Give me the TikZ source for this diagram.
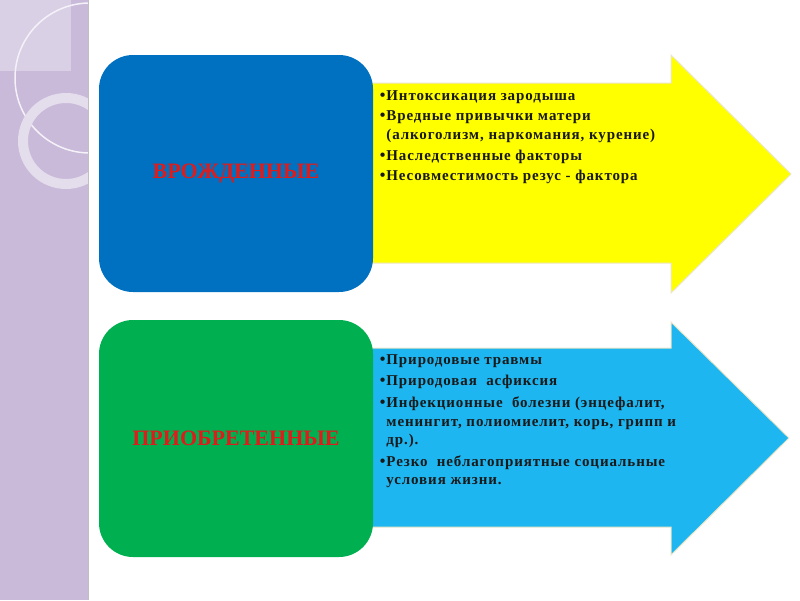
\documentclass[tikz,border=0pt]{standalone}
\usepackage{fontspec}
\setmainfont{Liberation Serif}
\newfontfamily\listfont[LetterSpace=6]{Liberation Serif}
\usetikzlibrary{positioning}

\definecolor{stripPurple}{RGB}{201,186,218}
\definecolor{stripLight}{RGB}{217,208,230}
\definecolor{boxBlue}{RGB}{0,112,192}
\definecolor{boxGreen}{RGB}{0,176,80}
\definecolor{arrowYellow}{RGB}{255,255,0}
\definecolor{arrowCyan}{RGB}{30,182,240}
\definecolor{titleRed}{RGB}{222,28,28}
\definecolor{arrowEdge}{RGB}{236,230,200}

\newcommand{\bul}{\makebox[9pt][r]{{\fontsize{16}{16}\selectfont\textbullet}\hspace{1pt}}}
\newcommand{\cont}{\hspace*{9pt}}

\begin{document}
\begin{tikzpicture}[
    x=1pt, y=-1pt,
    group/.style={rectangle, rounded corners=34pt, minimum width=274pt, minimum height=237pt, inner sep=0pt, font=\fontsize{22}{24}\selectfont\bfseries, text=titleRed},
    arrowshape/.style={draw=arrowEdge, line width=1pt},
    itemlist/.style={anchor=north west, align=left, inner sep=0pt, font=\listfont\fontsize{15}{18.6}\selectfont\bfseries, text=black!90}
]
\useasboundingbox (0,0) rectangle (800,600);

% --- Side strip ---
\fill[stripPurple] (0,0) rectangle (88,600);
\begin{scope}
    \clip (0,0) rectangle (88,600);
    \fill[stripLight] (0,0) rectangle (71,71);
    \draw[white!80!stripPurple, line width=1.5pt] (90,78) circle (75pt);
    \draw[white!50!stripPurple, line width=10pt] (66,141) circle (43pt);
\end{scope}
\draw[black!25] (88,0) -- (88,600);

% --- Arrows ---
\draw[arrowshape, fill=arrowYellow] (300,83) -- (671,83) -- (671,55) -- (791,174) -- (671,293) -- (671,263) -- (300,263) -- cycle;
\draw[arrowshape, fill=arrowCyan] (300,348) -- (671,348) -- (671,322) -- (789,438) -- (671,555) -- (671,527) -- (300,527) -- cycle;

% --- Groups ---
\node[group, fill=boxBlue] (congenital) at (236,173.5) {ВРОЖДЕННЫЕ};
\node[group, fill=boxGreen] (acquired) at (236,438.5) {ПРИОБРЕТЕННЫЕ};

% --- Lists ---
\node[itemlist] (congenital_list) at ([xshift=4pt, yshift=-35.5pt]congenital.north east) {%
    \bul Интоксикация зародыша\\[2pt]
    \bul Вредные привычки матери\\
    \cont (алкоголизм, наркомания, курение)\\[2pt]
    \bul Наследственные факторы\\[2pt]
    \bul Несовместимость резус - фактора};
\node[itemlist] (acquired_list) at ([xshift=4pt, yshift=-34.5pt]acquired.north east) {%
    \bul Природовые травмы\\[3pt]
    \bul Природовая\ \ асфиксия\\[3pt]
    \bul Инфекционные\ \ болезни (энцефалит,\\
    \cont менингит, полиомиелит, корь, грипп и\\
    \cont др.).\\[3pt]
    \bul Резко\ \ неблагоприятные социальные\\
    \cont условия жизни.};

\end{tikzpicture}
\end{document}
